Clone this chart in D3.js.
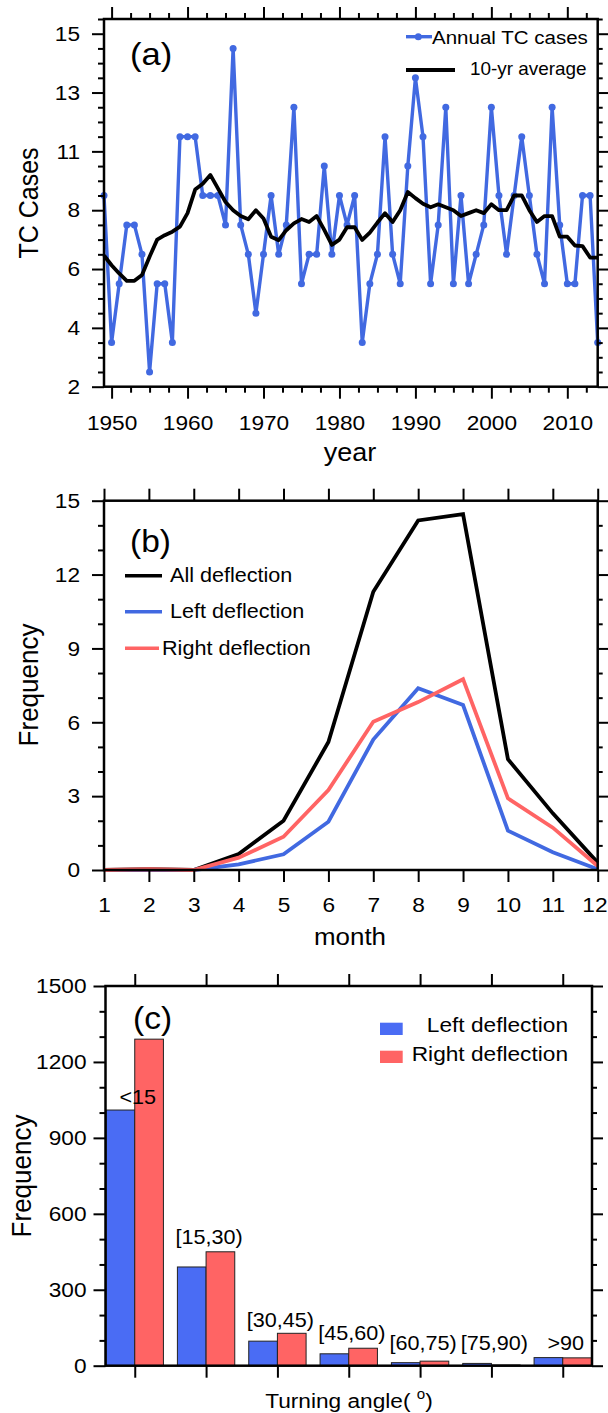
<!DOCTYPE html>
<html>
<head>
<meta charset="utf-8">
<script src="https://cdn.jsdelivr.net/npm/d3@7"></script>
<style>
  body { margin: 0; background: #fff; }
  svg text { font-family: "Liberation Sans", Arial, Helvetica, sans-serif; fill: #000; }
</style>
</head>
<body>
<svg id="chart" width="608" height="1413"></svg>
<script>
// ---- panel (a): annual TC cases ----
let years = [1949,1950,1951,1952,1953,1954,1955,1956,1957,1958,1959,1960,1961,1962,1963,1964,1965,1966,1967,1968,
    1969,1970,1971,1972,1973,1974,1975,1976,1977,1978,1979,1980,1981,1982,1983,1984,1985,1986,1987,1988,
    1989,1990,1991,1992,1993,1994,1995,1996,1997,1998,1999,2000,2001,2002,2003,2004,2005,2006,2007,2008,
    2009,2010,2011,2012,2013,2014];
let annualCases = [8.5,3.5,5.5,7.5,7.5,6.5,2.5,5.5,5.5,3.5,10.5,10.5,10.5,8.5,8.5,8.5,7.5,13.5,7.5,6.5,
    4.5,6.5,8.5,6.5,7.5,11.5,5.5,6.5,6.5,9.5,6.5,8.5,7.5,8.5,3.5,5.5,6.5,10.5,6.5,5.5,
    9.5,12.5,10.5,5.5,7.5,11.5,5.5,8.5,5.5,6.5,7.5,11.5,8.5,6.5,8.5,10.5,8.5,6.5,5.5,11.5,
    7.5,5.5,5.5,8.5,8.5,3.5];
let tenYrAvg = [6.46,6.13,5.85,5.6,5.6,5.8,6.42,7.0,7.15,7.27,7.44,7.9,8.7,8.9,9.2,8.74,8.28,8.0,7.8,7.69,
    8.0,7.72,7.1,6.98,7.32,7.55,7.7,7.6,7.8,7.33,6.82,7.0,7.42,7.42,6.99,7.24,7.58,7.9,7.6,8.0,
    8.62,8.41,8.22,8.1,8.2,8.1,8.0,7.8,7.9,8.0,7.9,8.2,8.0,8.0,8.5,8.5,8.0,7.6,7.8,7.8,
    7.1,7.1,6.8,6.78,6.39,6.39];
let yearTicks = [1950,1960,1970,1980,1990,2000,2010];
let caseTicks = [2,4,6,8,10,12,14];
let caseTickLabels = ["2","4","6","8","11","13","15"];

// ---- panel (b): monthly frequency ----
let months = [1,2,3,4,5,6,7,8,9,10,11,12];
let allDeflection = [0,0.03,0,0.65,2.0,5.2,11.3,14.2,14.45,4.5,2.3,0.3];
let leftDeflection = [0,0,0,0.23,0.64,1.96,5.3,7.38,6.7,1.6,0.72,0.03];
let rightDeflection = [0,0.03,0,0.5,1.35,3.25,6.02,6.82,7.75,2.91,1.72,0.16];
let freqTicks = [0,3,6,9,12,15];

// ---- panel (c): turning angle ----
let angleBins = ["<15","[15,30)","[30,45)","[45,60)","[60,75)","[75,90)",">90"];
let leftCounts = [1010,390,97,47,12,9,32];
let rightCounts = [1290,450,128,69,18,3,31];
let binLabelAt = [1033,480,153,101,62,62,62];
let countTicks = [0,300,600,900,1200,1500];

let blue = "#4169E1";
let red = "#FF6464";
let SX = 1.08; // the source figure is slightly stretched horizontally
let tickFont = 21;

let svg = d3.select("#chart");

function label(g, x, y, str, size, anchor, rotate) {
    return g.append("text")
        .attr("transform", `translate(${x},${y}) scale(${SX},1)` + (rotate ? " rotate(-90)" : ""))
        .attr("font-size", size)
        .attr("text-anchor", anchor || "start")
        .text(str);
}

function styleAxis(sel, pad) {
    sel.select(".domain").remove();
    sel.selectAll("line").attr("stroke", "#000").attr("stroke-width", 2);
    sel.selectAll("text")
        .attr("font-size", tickFont)
        .attr("fill", "#000")
        .attr("transform", `scale(${SX},1)`);
    if (pad !== undefined) {
        sel.selectAll("text").attr("x", function() { return +this.getAttribute("x") / SX; });
    }
}

// four-sided frame with outward ticks, labels on left and bottom
function frame(g, x, y, o) {
    let [x0, x1] = x.range();
    let [y0, y1] = y.range();
    let none = () => "";
    let bottom = g.append("g").attr("transform", `translate(0,${y0})`)
        .call(d3.axisBottom(x).tickValues(o.xTicks).tickSize(12).tickPadding(o.xPad)
            .tickFormat(o.xLabels ? d3.format("d") : none))
        .call(styleAxis);
    g.append("g").attr("transform", `translate(0,${y1})`)
        .call(d3.axisTop(x).tickValues(o.xTicks).tickSize(12).tickFormat(none))
        .call(styleAxis);
    if (o.xMinor) {
        g.append("g").attr("transform", `translate(0,${y0})`)
            .call(d3.axisBottom(x).tickValues(o.xMinor).tickSize(6).tickFormat(none)).call(styleAxis);
        g.append("g").attr("transform", `translate(0,${y1})`)
            .call(d3.axisTop(x).tickValues(o.xMinor).tickSize(6).tickFormat(none)).call(styleAxis);
    }
    g.append("g").attr("transform", `translate(${x0},0)`)
        .call(d3.axisLeft(y).tickValues(o.yTicks).tickSize(12).tickPadding(o.yPad)
            .tickFormat(o.yFormat))
        .call(s => styleAxis(s, o.yPad));
    g.append("g").attr("transform", `translate(${x1},0)`)
        .call(d3.axisRight(y).tickValues(o.yTicks).tickSize(11).tickFormat(none))
        .call(styleAxis);
    g.append("g").attr("transform", `translate(${x0},0)`)
        .call(d3.axisLeft(y).tickValues(o.yMinor).tickSize(6).tickFormat(none)).call(styleAxis);
    g.append("g").attr("transform", `translate(${x1},0)`)
        .call(d3.axisRight(y).tickValues(o.yMinor).tickSize(5).tickFormat(none)).call(styleAxis);
    return bottom;
}

function box(g, x, y) {
    let [x0, x1] = x.range();
    let [y0, y1] = y.range();
    g.append("rect")
        .attr("x", x0).attr("y", y1)
        .attr("width", x1 - x0).attr("height", y0 - y1)
        .attr("fill", "none").attr("stroke", "#000").attr("stroke-width", 2.5);
}

// ================= (a) =================
{
    let g = svg.append("g");
    let x = d3.scaleLinear().domain([1949, 2014]).range([104, 597.7]);
    let y = d3.scaleLinear().domain([2, 14.5]).range([386.7, 19]);

    let line = d3.line().x((d, i) => x(years[i])).y(d => y(d));
    g.append("path").datum(annualCases)
        .attr("d", line).attr("fill", "none")
        .attr("stroke", blue).attr("stroke-width", 3.4).attr("stroke-linejoin", "round");
    g.selectAll(".dot").data(annualCases).enter().append("circle")
        .attr("cx", (d, i) => x(years[i])).attr("cy", d => y(d))
        .attr("r", 3.5).attr("fill", blue);
    g.append("path").datum(tenYrAvg)
        .attr("d", line).attr("fill", "none")
        .attr("stroke", "#000").attr("stroke-width", 3.8).attr("stroke-linejoin", "round");

    frame(g, x, y, {
        xTicks: yearTicks, xLabels: true, xPad: 16,
        xMinor: d3.range(1950, 2014, 2.5).filter(v => v % 10 !== 0),
        yTicks: caseTicks, yPad: 12,
        yFormat: (d, i) => caseTickLabels[i],
        yMinor: d3.range(2, 14.6, 0.5).filter(v => v % 2 !== 0)
    });
    box(g, x, y);

    label(g, 130, 65, "(a)", 32);
    label(g, 350, 461, "year", 25, "middle");
    label(g, 38, 203, "TC Cases", 25, "middle", true);

    // legend
    g.append("line").attr("x1", 406).attr("x2", 432).attr("y1", 36.7).attr("y2", 36.7)
        .attr("stroke", blue).attr("stroke-width", 3.4);
    g.append("circle").attr("cx", 418.3).attr("cy", 36.7).attr("r", 3.5).attr("fill", blue);
    label(g, 432, 44, "Annual TC cases", 19);
    g.append("line").attr("x1", 406).attr("x2", 455).attr("y1", 70).attr("y2", 70)
        .attr("stroke", "#000").attr("stroke-width", 3.8);
    label(g, 470, 75, "10-yr average", 17.5);
}

// ================= (b) =================
{
    let g = svg.append("g");
    let x = d3.scaleLinear().domain([1, 12]).range([104, 597.7]);
    let y = d3.scaleLinear().domain([0, 15]).range([870, 500.7]);

    let line = d3.line().x((d, i) => x(months[i])).y(d => y(d));
    [[allDeflection, "#000"], [leftDeflection, blue], [rightDeflection, red]].forEach(([s, c]) => {
        g.append("path").datum(s).attr("d", line).attr("fill", "none")
            .attr("stroke", c).attr("stroke-width", 3.8).attr("stroke-linejoin", "miter");
    });

    let bottom = frame(g, x, y, {
        xTicks: months, xLabels: true, xPad: 15,
        yTicks: freqTicks, yPad: 12, yFormat: d3.format("d"),
        yMinor: d3.range(0, 15.1, 1).filter(v => v % 3 !== 0)
    });
    // keep the last month label inside the page edge
    bottom.selectAll("text").filter(d => d === 12)
        .attr("text-anchor", "end").attr("x", (607 - x(12)) / SX);
    box(g, x, y);

    label(g, 130, 552, "(b)", 31);
    label(g, 350, 945, "month", 24, "middle");
    label(g, 38, 685, "Frequency", 26, "middle", true);

    let leg = [["All deflection", "#000", 575.7, 582, 162, 170],
               ["Left deflection", blue, 611.7, 618, 162, 170],
               ["Right deflection", red, 648.3, 655, 159, 162]];
    leg.forEach(([t, c, ly, ty, lx2, tx]) => {
        g.append("line").attr("x1", 125).attr("x2", lx2).attr("y1", ly).attr("y2", ly)
            .attr("stroke", c).attr("stroke-width", 3.5);
        label(g, tx, ty, t, 20);
    });
}

// ================= (c) =================
{
    let g = svg.append("g");
    let x = d3.scalePoint().domain(angleBins).range([105.5, 592]).padding(0.41);
    let y = d3.scaleLinear().domain([0, 1500]).range([1365.7, 986]);
    let bw = x.step() * 0.402;

    g.selectAll(".lbar").data(leftCounts).enter().append("rect")
        .attr("x", (d, i) => x(angleBins[i]) - bw).attr("y", d => y(d))
        .attr("width", bw).attr("height", d => y(0) - y(d))
        .attr("fill", "#4A6CF4").attr("stroke", "#222").attr("stroke-width", 1);
    g.selectAll(".rbar").data(rightCounts).enter().append("rect")
        .attr("x", (d, i) => x(angleBins[i])).attr("y", d => y(d))
        .attr("width", bw).attr("height", d => y(0) - y(d))
        .attr("fill", red).attr("stroke", "#222").attr("stroke-width", 1);

    angleBins.forEach((b, i) => {
        label(g, x(b) + 3, y(binLabelAt[i]), b, 20, "middle");
    });

    frame(g, x, y, {
        xTicks: angleBins, xLabels: false, xPad: 0,
        yTicks: countTicks, yPad: 7, yFormat: d3.format("d"),
        yMinor: d3.range(0, 1501, 100).filter(v => v % 300 !== 0)
    });
    box(g, x, y);

    label(g, 133, 1029, "(c)", 31);
    let t = label(g, 349, 1408, "", 21, "middle");
    t.append("tspan").text("Turning angle( ");
    t.append("tspan").attr("font-size", 14).attr("dy", -9).text("o");
    t.append("tspan").attr("dy", 9).text(")");
    label(g, 31, 1176, "Frequency", 26, "middle", true);

    g.append("rect").attr("x", 380).attr("y", 1022.7).attr("width", 22.7).attr("height", 12.3).attr("fill", "#4A6CF4");
    g.append("rect").attr("x", 380).attr("y", 1050.7).attr("width", 22.7).attr("height", 12.3).attr("fill", red);
    label(g, 568, 1032, "Left deflection", 21, "end");
    label(g, 568, 1061, "Right deflection", 21, "end");
}
</script>
</body>
</html>
